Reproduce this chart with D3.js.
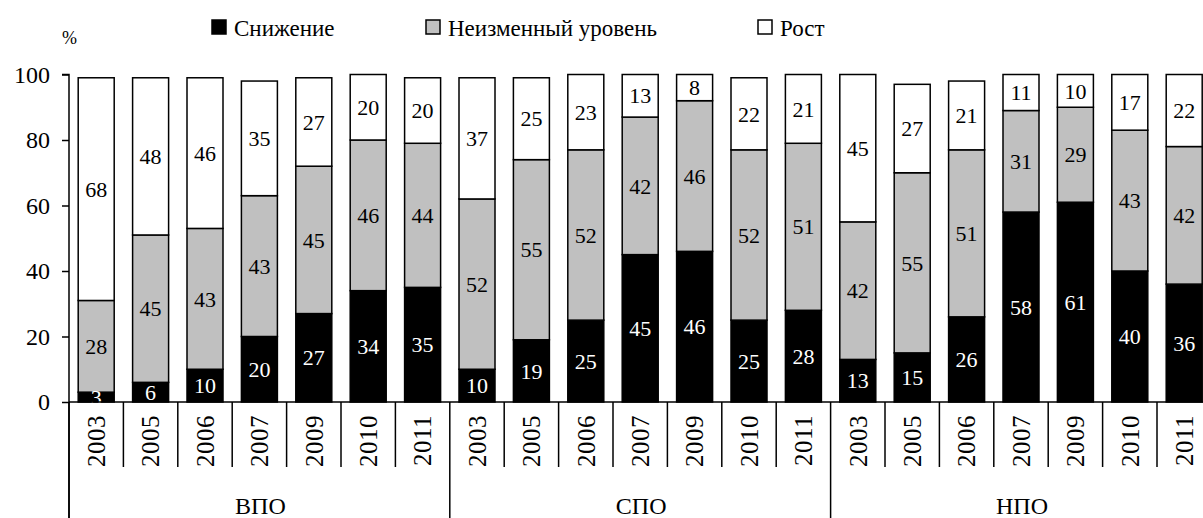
<!DOCTYPE html>
<html>
<head>
<meta charset="utf-8">
<script src="https://cdn.jsdelivr.net/npm/d3@7"></script>
<style>
  body { margin: 0; background: #fff; }
  svg text { font-family: "Liberation Serif", "DejaVu Serif", serif !important; }
</style>
</head>
<body>
<svg width="1203" height="518"></svg>
<script>
const groups = ["ВПО", "СПО", "НПО"];
const years = ["2003", "2005", "2006", "2007", "2009", "2010", "2011"];
const seriesNames = ["Снижение", "Неизменный уровень", "Рост"];
const seriesColors = ["#000000", "#c0c0c0", "#ffffff"];
const labelColors = ["#ffffff", "#000000", "#000000"];
const yTicks = [0, 20, 40, 60, 80, 100];

// values per group, in year order
const decline = [
  [3, 6, 10, 20, 27, 34, 35],
  [10, 19, 25, 45, 46, 25, 28],
  [13, 15, 26, 58, 61, 40, 36]
];
const same = [
  [28, 45, 43, 43, 45, 46, 44],
  [52, 55, 52, 42, 46, 52, 51],
  [42, 55, 51, 31, 29, 43, 42]
];
const growth = [
  [68, 48, 46, 35, 27, 20, 20],
  [37, 25, 23, 13, 8, 22, 21],
  [45, 27, 21, 11, 10, 17, 22]
];

const serif = '"Liberation Serif", "DejaVu Serif", serif';
const svg = d3.select("svg");

// flat rows for the stack
const rows = [];
groups.forEach((g, gi) => {
  years.forEach((y, yi) => {
    rows.push({
      key: g + "-" + y, group: g, year: y,
      s0: decline[gi][yi], s1: same[gi][yi], s2: growth[gi][yi]
    });
  });
});

const left = 70, step = 54.4;
const x = d3.scaleBand()
    .domain(rows.map(d => d.key))
    .range([left, left + step * rows.length])
    .padding(0);
const barW = 36;

const y = d3.scaleLinear().domain([0, 100]).range([402, 74.5]);

const stack = d3.stack().keys(["s0", "s1", "s2"]);
const layers = stack(rows);

// bars
layers.forEach((layer, li) => {
  svg.append("g")
    .selectAll("rect")
    .data(layer)
    .enter()
    .append("rect")
    .attr("x", d => x(d.data.key) + (x.bandwidth() - barW) / 2 - 1)
    .attr("y", d => y(d[1]))
    .attr("width", barW)
    .attr("height", d => y(d[0]) - y(d[1]))
    .attr("fill", seriesColors[li])
    .attr("stroke", "#000")
    .attr("stroke-width", 1.5);
});

// value labels
layers.forEach((layer, li) => {
  svg.append("g")
    .selectAll("text")
    .data(layer)
    .enter()
    .append("text")
    .attr("x", d => x(d.data.key) + x.bandwidth() / 2 - 1)
    .attr("y", d => y((d[0] + d[1]) / 2))
    .attr("dy", "0.35em")
    .attr("text-anchor", "middle")
    .attr("font-size", 22)
    .style("font-family", serif)
    .attr("fill", labelColors[li])
    .text(d => d[1] - d[0]);
});

// y axis
const yAxis = svg.append("g")
    .attr("transform", `translate(${left - 1},0)`)
    .call(d3.axisLeft(y).tickValues(yTicks).tickSize(7).tickPadding(12));
yAxis.select(".domain").attr("stroke-width", 1.5).attr("d", `M-7,${y(100)}H0V518`);
yAxis.selectAll(".tick line").attr("stroke-width", 1.5);
yAxis.selectAll(".tick text")
    .attr("font-size", 24)
    .style("font-family", serif)
    .attr("fill", "#000");

// baseline
svg.append("line")
    .attr("x1", left - 1).attr("x2", 1203)
    .attr("y1", y(0)).attr("y2", y(0))
    .attr("stroke", "#000").attr("stroke-width", 1.5);

// category separators below the axis
const bounds = d3.range(rows.length + 1);
svg.append("g")
  .selectAll("line")
  .data(bounds)
  .enter()
  .append("line")
  .attr("x1", i => left + i * step - 1)
  .attr("x2", i => left + i * step - 1)
  .attr("y1", y(0))
  .attr("y2", i => i % years.length === 0 ? 518 : 467)
  .attr("stroke", "#000")
  .attr("stroke-width", 1.5);

// year labels
svg.append("g")
  .selectAll("text")
  .data(rows)
  .enter()
  .append("text")
  .attr("transform", d => `translate(${x(d.key) + x.bandwidth() / 2 - 1},415) rotate(-90)`)
  .attr("text-anchor", "end")
  .attr("dy", "0.35em")
  .attr("font-size", 25)
  .attr("letter-spacing", 0.5)
  .style("font-family", serif)
  .text(d => d.year);

// group labels
svg.append("g")
  .selectAll("text")
  .data(groups)
  .enter()
  .append("text")
  .attr("x", (g, gi) => left + (gi + 0.5) * years.length * step)
  .attr("y", 514)
  .attr("text-anchor", "middle")
  .attr("font-size", 24)
  .style("font-family", serif)
  .text(g => g);

// percent sign
svg.append("text")
  .attr("x", 62).attr("y", 44)
  .attr("font-size", 18)
  .style("font-family", serif)
  .text("%");

// legend
const legendX = [212, 426, 758];
const legend = svg.append("g")
  .selectAll("g")
  .data(seriesNames)
  .enter()
  .append("g")
  .attr("transform", (d, i) => `translate(${legendX[i]},20)`);
legend.append("rect")
  .attr("width", 14).attr("height", 14)
  .attr("fill", (d, i) => seriesColors[i])
  .attr("stroke", "#000")
  .attr("stroke-width", 1.5);
legend.append("text")
  .attr("x", 22).attr("y", 16)
  .attr("font-size", 23)
  .style("font-family", serif)
  .text(d => d);
</script>
</body>
</html>
